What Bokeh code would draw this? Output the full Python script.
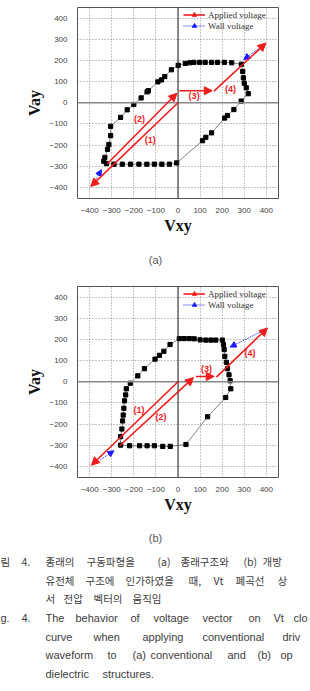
import math
from bokeh.plotting import figure
from bokeh.layouts import column, row
from bokeh.models import (Range1d, FixedTicker, Span, Arrow, NormalHead,
                          ColumnDataSource, Legend, LegendItem)
from bokeh.core.properties import value
from bokeh.embed import file_html
from bokeh.resources import INLINE

RED = "#f01c1c"
BLUE = "#1a1aff"
NAN = float("nan")

TICKS = [-400, -300, -200, -100, 0, 100, 200, 300, 400]
step_labels = ["(1)", "(2)", "(3)", "(4)"]

# ---------------- (a) conventional structure ----------------
a_vxy = [-6, -39, -73, -107, -141, -177, -215, -252, -290, -324,
         -336, -331, -319, -313, -305, -305,
         -260, -230, -200, -167, -140, -134, -91, -75, -60, -30, 1,
         33, 54, 72, 98, 123, 152, 179, 210, 243,
         287, 293, 296, 300, 309, 318,
         286, 253, 224, 211, 152, 126, 111]
a_vay = [-284, -290, -290, -290, -290, -290, -290, -290, -290, -287,
         -276, -258, -220, -197, -155, -111,
         -69, -33, -8, 23, 52, 57, 99, 108, 124, 156, 177,
         186, 189, 191, 191, 191, 191, 191, 191, 189,
         182, 148, 118, 93, 71, 43,
         8, -32, -60, -72, -142, -163, -179]
a_app_x0 = [0, -320, 6, 163]
a_app_y0 = [0, -288, 57, 55]
a_app_x1 = [-395, -5, 155, 398]
a_app_y1 = [-395, 45, 57, 282]
a_wall_x0 = [-384, 398]
a_wall_y0 = [-387, 282]
a_wall_x1 = [-347, 298]
a_wall_y1 = [-316, 204]
a_lab_x = [-126, -174, 73, 238]
a_lab_y = [-175, -76, 30, 66]

# ---------------- (b) open dielectric structure ----------------
b_vxy = [6, 28, 51, 73, 100, 126, 149, 171, 201,
         206, 209, 212, 219, 224, 231, 236, 239,
         216, 134, 36,
         -35, -69, -107, -140, -174, -219, -260,
         -260, -254, -251, -248, -245, -242, -237, -234, -216,
         -182, -152, -104, -84, -64, -36]
b_vay = [204, 204, 204, 203, 198, 197, 197, 197, 197,
         175, 152, 120, 92, 62, 33, 5, -33,
         -74, -165, -296,
         -305, -305, -302, -302, -302, -302, -299,
         -259, -223, -185, -157, -125, -90, -62, -33, -7,
         28, 62, 107, 125, 144, 176]
b_app_x0 = [0, -264, 81, 174]
b_app_y0 = [0, -302, 25, 22]
b_app_x1 = [-392, 70, 164, 405]
b_app_y1 = [-394, 20, 25, 254]
b_wall_x0 = [-384, 404]
b_wall_y0 = [-391, 251]
b_wall_x1 = [-290, 236]
b_wall_y1 = [-326, 164]
b_lab_x = [-177, -77, 129, 326]
b_lab_y = [-133, -165, 60, 136]


def vt_plot(vx, vy, ax0, ay0, ax1, ay1, wx0, wy0, wx1, wy1, lx, ly):
    p = figure(width=310, height=240, x_range=Range1d(-455, 455),
               y_range=Range1d(-452, 450), output_backend="svg",
               toolbar_location=None, min_border_left=77, min_border_right=32,
               min_border_top=7, min_border_bottom=42)
    p.background_fill_color = "white"
    p.border_fill_color = "white"
    p.outline_line_color = "#555555"
    p.outline_line_width = 1
    for axis in (p.xaxis[0], p.yaxis[0]):
        axis.ticker = FixedTicker(ticks=TICKS)
        axis.axis_line_color = None
        axis.major_tick_line_color = None
        axis.minor_tick_line_color = None
        axis.major_label_text_font = "Liberation Sans"
        axis.major_label_text_font_size = "8px"
        axis.major_label_text_color = "#444444"
        axis.major_label_standoff = 4
        axis.axis_label_text_font = "Liberation Serif"
        axis.axis_label_text_font_style = "bold"
        axis.axis_label_text_font_size = "16px"
        axis.axis_label_text_color = "#111111"
        axis.axis_label_standoff = 3
    p.xaxis.major_label_standoff = 3
    p.xaxis.axis_label_standoff = 1
    p.xaxis.axis_label = "Vxy"
    p.yaxis.axis_label = "Vay"
    for g in (p.xgrid[0], p.ygrid[0]):
        g.ticker = FixedTicker(ticks=TICKS)
        g.grid_line_color = "#8c8c8c"
        g.grid_line_dash = "1 2"
        g.grid_line_width = 1
    p.add_layout(Span(location=0, dimension="width", line_color="#888888", line_width=1.5))
    p.add_layout(Span(location=0, dimension="height", line_color="#222222", line_width=1))

    p.line(vx + [vx[0]], vy + [vy[0]], line_color="#666666", line_width=0.8)
    p.scatter(vx, vy, marker="square", size=4.2, color="black")

    wsrc = ColumnDataSource(dict(x0=wx0, y0=wy0, x1=wx1, y1=wy1))
    p.add_layout(Arrow(x_start="x0", y_start="y0", x_end="x1", y_end="y1", source=wsrc,
                       line_color=BLUE, line_width=1, line_dash="1 1",
                       end=NormalHead(size=6, fill_color=BLUE, line_color=BLUE)))
    asrc = ColumnDataSource(dict(x0=ax0, y0=ay0, x1=ax1, y1=ay1))
    p.add_layout(Arrow(x_start="x0", y_start="y0", x_end="x1", y_end="y1", source=asrc,
                       line_color=RED, line_width=1.6,
                       end=NormalHead(size=8, fill_color=RED, line_color=RED)))
    p.text(x=lx, y=ly, text=step_labels, text_color=RED,
           text_font=value("Liberation Sans"), text_font_style="bold",
           text_font_size="9px", text_align="center", text_baseline="middle")

    r1 = p.line(x=[NAN], y=[NAN], line_color=RED, line_width=1.6)
    r2 = p.scatter(x=[NAN], y=[NAN], marker="triangle", angle=-math.pi / 2, size=8, color=RED)
    r3 = p.line(x=[NAN], y=[NAN], line_color=BLUE, line_width=1, line_dash="1 1")
    r4 = p.scatter(x=[NAN], y=[NAN], marker="triangle", angle=-math.pi / 2, size=7, color=BLUE)
    leg = Legend(items=[LegendItem(label="Applied voltage", renderers=[r1, r2]),
                        LegendItem(label="Wall voltage", renderers=[r3, r4])],
                 location=(104, 165), label_text_font="Liberation Serif",
                 label_text_font_size="9px", label_text_color="#333333",
                 glyph_width=22, glyph_height=11, label_height=11, spacing=0,
                 padding=2, margin=0, border_line_alpha=0, background_fill_alpha=0,
                 label_standoff=3)
    p.add_layout(leg)
    return p


def text_fig(h):
    t = figure(width=310, height=h, x_range=Range1d(0, 310), y_range=Range1d(h, 0),
               output_backend="svg", toolbar_location=None,
               min_border_left=0, min_border_right=0, min_border_top=0,
               min_border_bottom=0, x_axis_type=None, y_axis_type=None)
    t.grid.visible = False
    t.outline_line_color = None
    return t


fig_a = vt_plot(a_vxy, a_vay, a_app_x0, a_app_y0, a_app_x1, a_app_y1,
                a_wall_x0, a_wall_y0, a_wall_x1, a_wall_y1, a_lab_x, a_lab_y)
fig_b = vt_plot(b_vxy, b_vay, b_app_x0, b_app_y0, b_app_x1, b_app_y1,
                b_wall_x0, b_wall_y0, b_wall_x1, b_wall_y1, b_lab_x, b_lab_y)
fig_b.height = 241
fig_b.min_border_bottom = 43

lab_a = text_fig(39)
lab_a.text(x=[155], y=[19], text=["(a)"], text_font=value("Liberation Sans"),
           text_font_size="11px", text_color="#555555", text_align="center",
           text_baseline="middle")

cap = text_fig(171)
KR = value("Noto Sans CJK KR")
EN = value("Liberation Sans")
cap.text(x=[155], y=[17], text=["(b)"], text_font=EN, text_font_size="11px",
         text_color="#555555", text_align="center", text_baseline="middle")

kr_text = ["림", "4.", "종래의", "구동파형을", "(a)", "종래구조와", "(b)", "개방",
           "유전체", "구조에", "인가하였을", "때,", "Vt", "폐곡선", "상",
           "서", "전압", "벡터의", "움직임"]
kr_x = [0, 21, 45, 86, 157, 180, 243, 262,
        45, 85, 125, 188, 213, 235, 277,
        45, 63, 93, 132]
kr_y = [41] * 8 + [60] * 7 + [78] * 4
cap.text(x=kr_x, y=kr_y, text=kr_text, text_font=KR, text_font_size="10.5px",
         text_color="#3c3c3c", text_align="left", text_baseline="middle")

en_text = ["g.", "4.", "The", "behavior", "of", "voltage", "vector", "on", "Vt", "clo",
           "curve", "when", "applying", "conventional", "driv",
           "waveform", "to", "(a)", "conventional", "and", "(b)", "op",
           "dielectric", "structures."]
en_x = [0, 21, 45, 75, 130, 153, 202, 248, 273, 293,
        45, 93, 142, 202, 282,
        45, 107, 132, 150, 227, 257, 280,
        45, 102]
en_y = [97] * 10 + [116] * 5 + [134] * 7 + [153] * 2
cap.text(x=en_x, y=en_y, text=en_text, text_font=EN, text_font_size="11px",
         text_color="#3c3c3c", text_align="left", text_baseline="middle")

layout = column(fig_a, row(lab_a), fig_b, row(cap), spacing=0)
open("out.html", "w").write(file_html(layout, INLINE))
